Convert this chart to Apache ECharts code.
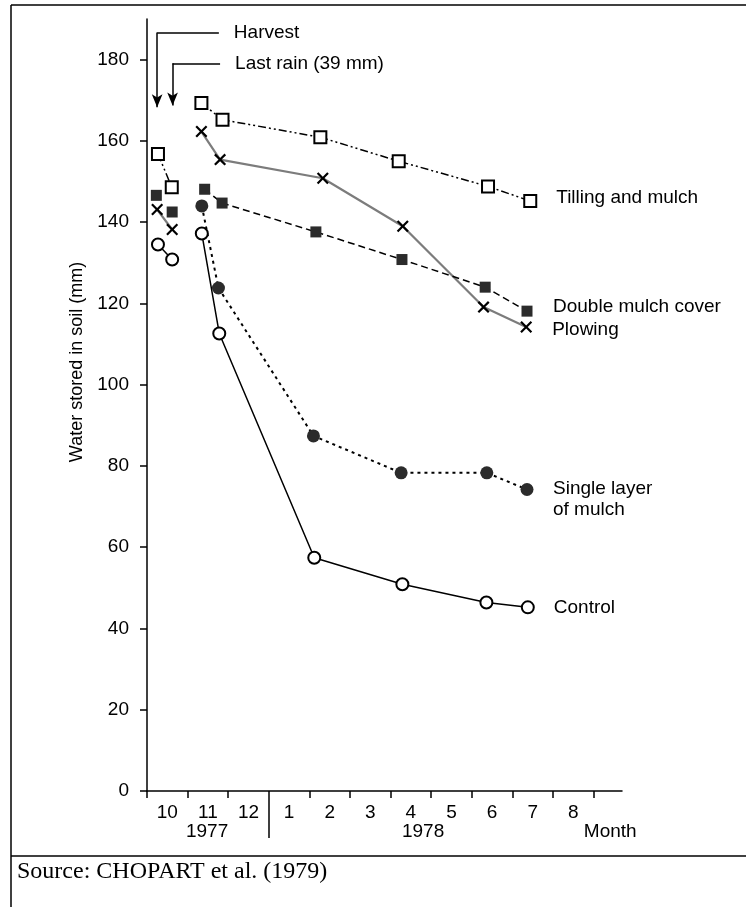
<!DOCTYPE html>
<html>
<head>
<meta charset="utf-8">
<title>Water stored in soil</title>
<script src="https://cdn.jsdelivr.net/npm/echarts@6/dist/echarts.min.js"></script>
<style>
  html, body { margin: 0; padding: 0; background: #fff; }
  #chart { width: 746px; height: 907px; }
</style>
</head>
<body>
<div id="chart"></div>
<script>
// x values are months counted from 1 Oct 1977
const monthTicks = [0, 1, 2, 3, 4, 5, 6, 7, 8, 9, 10, 11]
const monthLabels = ['10', '11', '12', '1', '2', '3', '4', '5', '6', '7', '8']
const monthLabelPos = [0.5, 1.5, 2.5, 3.5, 4.5, 5.5, 6.5, 7.5, 8.5, 9.5, 10.5]
const yearLabels = ['1977', '1978', 'Month']
const yearLabelPos = [1.48, 6.8, 11.41]
const yearDivider = [3]
const yTicks = [0, 20, 40, 60, 80, 100, 120, 140, 160, 180]

const tillingMonths = [0.27, 0.61, 1.34, 1.86, 4.27, 6.20, 8.40, 9.44]
const tillingWater = [156.8, 148.6, 169.3, 165.2, 160.9, 155.0, 148.8, 145.2]
const plowingMonths = [0.25, 0.62, 1.34, 1.80, 4.33, 6.30, 8.29, 9.34]
const plowingWater = [143.1, 138.2, 162.3, 155.4, 150.8, 139.0, 119.1, 114.2]
const doubleMonths = [0.23, 0.62, 1.42, 1.85, 4.16, 6.28, 8.33, 9.36]
const doubleWater = [146.6, 142.5, 148.1, 144.7, 137.6, 130.8, 124.0, 118.1]
const singleMonths = [1.35, 1.76, 4.10, 6.26, 8.37, 9.36]
const singleWater = [144.0, 123.8, 87.4, 78.3, 78.3, 74.2]
const controlMonths = [0.27, 0.62, 1.35, 1.78, 4.12, 6.29, 8.36, 9.38]
const controlWater = [134.5, 130.8, 137.2, 112.6, 57.4, 50.9, 46.4, 45.2]

// annotation arrows: [month, top of bracket, arrow tip, end of bracket]
const harvest = [0.25, 186.7, 168.3, 1.77]
const lastRain = [0.63, 179.1, 168.7, 1.80]

const FONT = '"Liberation Sans", Arial, sans-serif'
const chart = echarts.init(document.getElementById('chart'))

// breaks: indexes after which the line is not drawn
function pairs(xs, ys, breaks) {
  const out = []
  xs.forEach((x, i) => {
    out.push([x, ys[i]])
    if (breaks.includes(i)) out.push(['-', '-'])
  })
  return out
}

const xPath = 'path://M0,1.3L1.3,0L5,3.7L8.7,0L10,1.3L6.3,5L10,8.7L8.7,10L5,6.3L1.3,10L0,8.7L3.7,5Z'

function arrow(a, name) {
  return [
    [
      { coord: [a[0], a[1]], symbol: 'none' },
      { coord: [a[0], a[2]], symbol: 'arrow', symbolSize: [8, 13] }
    ],
    [
      { coord: [a[0], a[1]], symbol: 'none', name: name },
      { coord: [a[3], a[1]], symbol: 'none', label: { show: true } }
    ]
  ]
}

const endLabel = (text, dy) => ({
  show: true,
  formatter: text,
  distance: 26,
  offset: [0, dy],
  color: '#000',
  fontFamily: FONT,
  fontSize: 19,
  lineHeight: 21
})

const option = {
  backgroundColor: '#fff',
  animation: false,
  textStyle: { fontFamily: FONT },
  title: {
    text: 'Source: CHOPART et al. (1979)',
    left: 17,
    top: 860,
    padding: 0,
    textStyle: {
      fontFamily: '"Liberation Serif", "Times New Roman", serif',
      fontWeight: 'normal',
      fontSize: 24,
      color: '#000'
    }
  },
  graphic: [
    { type: 'line', shape: { x1: 11, y1: 5, x2: 746, y2: 5 }, style: { stroke: '#000', lineWidth: 1.5 } },
    { type: 'line', shape: { x1: 11, y1: 5, x2: 11, y2: 907 }, style: { stroke: '#000', lineWidth: 1.5 } },
    { type: 'line', shape: { x1: 11, y1: 856, x2: 746, y2: 856 }, style: { stroke: '#000', lineWidth: 1.5 } }
  ],
  grid: {
    left: 147,
    right: 124,
    top: 19,
    bottom: 116
  },
  xAxis: [
    {
      type: 'value',
      position: 'bottom',
      min: 0,
      max: 11.7,
      axisLine: { onZero: false, lineStyle: { color: '#000', width: 1.5 } },
      axisTick: { customValues: monthTicks, length: 7, lineStyle: { color: '#000', width: 1.5 } },
      axisLabel: {
        customValues: monthLabelPos,
        formatter: v => monthLabels[monthLabelPos.indexOf(v)] || '',
        margin: 12,
        color: '#000',
        fontSize: 19
      },
      splitLine: { show: false }
    },
    {
      type: 'value',
      position: 'bottom',
      min: 0,
      max: 11.7,
      axisLine: { show: false, onZero: false },
      axisTick: { customValues: yearDivider, length: 47, lineStyle: { color: '#000', width: 1.5 } },
      axisLabel: {
        customValues: yearLabelPos,
        formatter: v => yearLabels[yearLabelPos.indexOf(v)] || '',
        margin: 31,
        color: '#000',
        fontSize: 19
      },
      splitLine: { show: false }
    }
  ],
  yAxis: {
    type: 'value',
    min: 0,
    max: 190,
    name: 'Water stored in soil (mm)',
    nameLocation: 'middle',
    nameGap: 56,
    nameTextStyle: { color: '#000', fontSize: 18, padding: [0, 0, 0, 86] },
    axisLine: { onZero: false, lineStyle: { color: '#000', width: 1.5 } },
    axisTick: { customValues: yTicks, length: 7, lineStyle: { color: '#000', width: 1.5 } },
    axisLabel: { customValues: yTicks, margin: 18, color: '#000', fontSize: 19 },
    splitLine: { show: false }
  },
  series: [
    {
      name: 'Tilling and mulch',
      type: 'line',
      data: pairs(tillingMonths, tillingWater, [1]),
      symbol: 'emptyRect',
      symbolSize: 12,
      itemStyle: { color: '#000', borderWidth: 1.6 },
      lineStyle: { color: '#000', width: 1.5, type: [8, 3, 2, 3, 2, 3] },
      endLabel: endLabel('Tilling and mulch', -3)
    },
    {
      name: 'Plowing',
      type: 'line',
      data: pairs(plowingMonths, plowingWater, [1]),
      symbol: xPath,
      symbolSize: 12,
      itemStyle: { color: '#000' },
      lineStyle: { color: '#7c7c7c', width: 2.2 },
      endLabel: endLabel('Plowing', 3)
    },
    {
      name: 'Double mulch cover',
      type: 'line',
      data: pairs(doubleMonths, doubleWater, [0, 1]),
      symbol: 'rect',
      symbolSize: 11,
      itemStyle: { color: '#2b2b2b' },
      lineStyle: { color: '#000', width: 1.5, type: [7, 4] },
      endLabel: endLabel('Double mulch cover', -4)
    },
    {
      name: 'Single layer of mulch',
      type: 'line',
      data: pairs(singleMonths, singleWater, []),
      symbol: 'circle',
      symbolSize: 13,
      itemStyle: { color: '#2b2b2b' },
      lineStyle: { color: '#000', width: 2, type: [3, 4] },
      endLabel: endLabel('Single layer\nof mulch', 10)
    },
    {
      name: 'Control',
      type: 'line',
      data: pairs(controlMonths, controlWater, [1]),
      symbol: 'emptyCircle',
      symbolSize: 12,
      itemStyle: { color: '#000', borderWidth: 1.5 },
      lineStyle: { color: '#000', width: 1.5 },
      endLabel: endLabel('Control', 0),
      markLine: {
        silent: true,
        symbol: ['none', 'none'],
        lineStyle: { color: '#000', width: 1.5, type: 'solid' },
        label: {
          show: false,
          position: 'end',
          distance: 15,
          formatter: '{b}',
          color: '#000',
          fontFamily: FONT,
          fontSize: 19
        },
        data: arrow(harvest, 'Harvest').concat(arrow(lastRain, 'Last rain (39 mm)'))
      }
    }
  ]
}

chart.setOption(option)
window.addEventListener('resize', () => chart.resize())
</script>
</body>
</html>
